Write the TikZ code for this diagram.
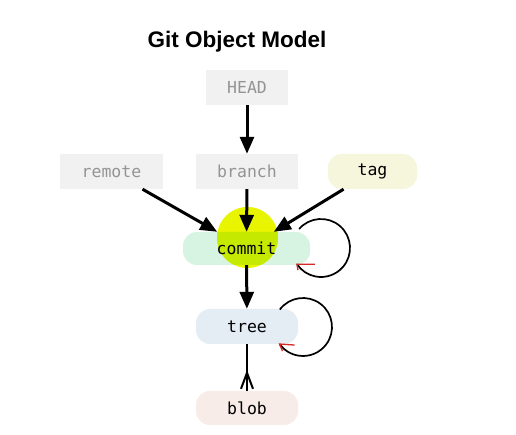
\documentclass[tikz,border=0pt]{standalone}
\usepackage{fontspec}
\setmonofont{DejaVu Sans Mono}
\newfontfamily\titlefont{Liberation Sans}
\usetikzlibrary{arrows.meta,calc}
\definecolor{boxgray}{RGB}{241,241,241}
\definecolor{labgray}{RGB}{148,148,148}
\definecolor{tagfill}{RGB}{245,246,220}
\definecolor{mint}{RGB}{215,243,225}
\definecolor{hlyellow}{RGB}{232,244,0}
\definecolor{hlover}{RGB}{198,233,0}
\definecolor{treefill}{RGB}{229,237,244}
\definecolor{blobfill}{RGB}{248,236,232}
\definecolor{tipred}{RGB}{214,40,40}
\begin{document}
\begin{tikzpicture}[x=1pt,y=1pt,
  lab/.style={font=\ttfamily\fontsize{16.5}{18}\selectfont, inner sep=0pt, minimum height=35pt},
  refbox/.style={lab, fill=boxgray, text=labgray},
  pill/.style={lab, rounded corners=14pt},
  arr/.style={line width=3pt, -{Triangle[length=17pt,width=14pt]}},
  loopline/.style={line width=1.7pt},
  redtip/.style={draw=tipred, line width=1.3pt}
]
\useasboundingbox (0,0) rectangle (516,435);
\fill[white] (0,0) rectangle (516,435);

\node[font=\titlefont\bfseries\fontsize{22.5}{27}\selectfont, anchor=base] (title) at (237,387) {Git Object Model};

\node[refbox, minimum width=82pt] (head) at (247,347.5) {HEAD};
\node[refbox, minimum width=103pt] (remote) at (111.5,263.5) {remote};
\node[refbox, minimum width=102pt] (branch) at (247,263.5) {branch};
\node[pill, fill=tagfill, minimum width=89pt] (tag) at (372.5,263.5) {tag};

% commit with highlight
\coordinate (cc) at (246.5,186.5);
\fill[mint, rounded corners=14pt] ($(cc)+(-63.5,-16.5)$) rectangle ($(cc)+(63.5,16.5)$);
\node[circle, fill=hlyellow, minimum size=61pt, inner sep=0pt] (hl) at (247.5,197.5) {};
\begin{scope}
  \clip[rounded corners=14pt] ($(cc)+(-63.5,-16.5)$) rectangle ($(cc)+(63.5,16.5)$);
  \fill[hlover] (hl.center) circle (30.5pt);
\end{scope}
\node[pill, minimum width=127pt, minimum height=33pt] (commit) at (cc) {commit};

\node[pill, fill=treefill, minimum width=102pt] (tree) at (247,108.5) {tree};
\node[pill, fill=blobfill, minimum width=102pt, minimum height=34pt] (blob) at (247,27) {blob};

% connectors
\draw[arr] (head) -- (branch);
\draw[arr] (branch) -- (commit);
\draw[arr] (remote) -- (commit);
\draw[arr] (tag) -- (commit);
\draw[arr] (commit) -- (tree);

% crow's foot tree -> blob
\coordinate (cf) at ($(blob.north)+(0,18)$);
\draw[line width=2.2pt] (tree) -- (blob);
\draw[line width=2pt] ($(blob.north)+(-6,2)$) -- (cf) -- ($(blob.north)+(6,2)$);

% self loops
\draw[loopline] ($(commit.center)+(74.5,0.5)+(139:29)$) arc[start angle=139, end angle=-146, radius=29] coordinate (ct);
\draw[redtip] ($(ct)+(18,0)$) -- (ct) -- ($(ct)+(1,-6)$);

\draw[loopline] ($(tree.center)+(56,-0.5)+(143:29)$) arc[start angle=143, end angle=-144, radius=29] coordinate (tt);
\draw[redtip] ($(tt)+(15,-1)$) -- (tt) -- ($(tt)+(3,-7)$);
\end{tikzpicture}
\end{document}
